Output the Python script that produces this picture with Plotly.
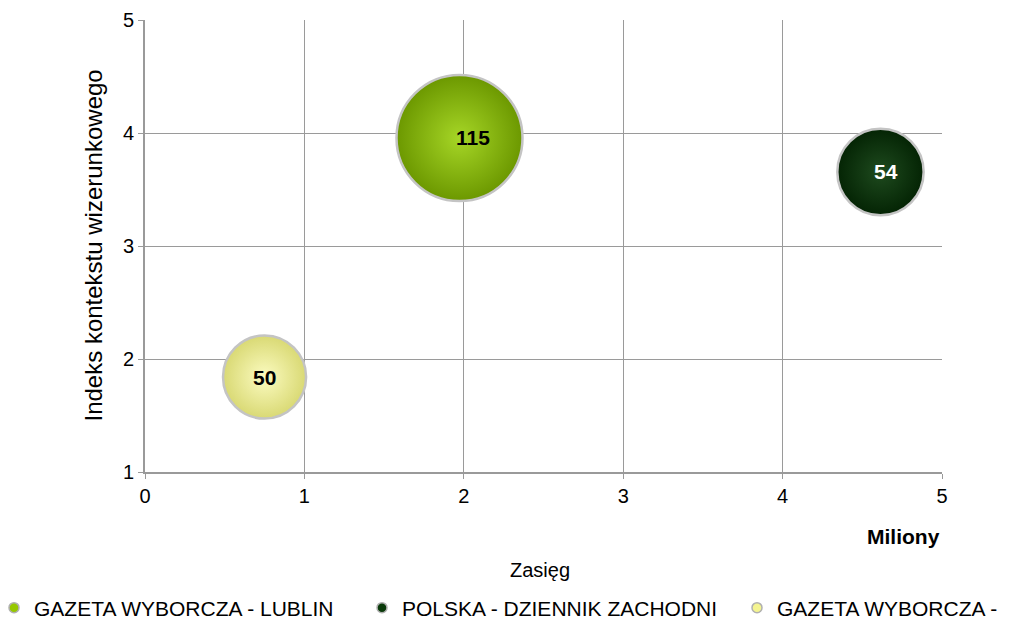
import plotly.graph_objects as go

# ---- data ----
names = ["GAZETA WYBORCZA - LUBLIN", "POLSKA - DZIENNIK ZACHODNI", "GAZETA WYBORCZA -"]
reach = [1.973, 4.614, 0.75]          # Zasięg (Miliony)
index_val = [3.956, 3.655, 1.84]      # Indeks kontekstu wizerunkowego
bubble = [115, 54, 50]
x_ticks = [0, 1, 2, 3, 4, 5]
y_ticks = [1, 2, 3, 4, 5]

# ---- styles ----
outer_cols = ["#6c9800", "#042404", "#d9d974"]
inner_cols = ["#a6d626", "#1e4a1e", "#fbfbc0"]
legend_cols = ["#96c800", "#0a3a0a", "#f4f490"]
label_cols = ["black", "white", "black"]
label_xshift = [13, 6, 0]
legend_x_px = [-14, 354, 729]

FONT = "Liberation Sans, Arial, sans-serif"
# the page body has an 8px margin; compensate so the figure fills the window
W, H = 1005, 613
L, R, T, B = 137, 71, 12, 149
pw = W - L - R
ph = H - T - B

max_px = 126.0
sizeref = 2.0 * max(bubble) / max_px ** 2

fig = go.Figure()
for i in range(len(names)):
    fig.add_trace(go.Scatter(
        x=[reach[i]], y=[index_val[i]], mode="markers",
        marker=dict(size=[bubble[i]], sizemode="area", sizeref=sizeref,
                    color=outer_cols[i],
                    gradient=dict(type="radial", color=inner_cols[i]),
                    line=dict(color="#c4c4c4", width=2.5),
                    opacity=1),
        showlegend=False, hoverinfo="skip", cliponaxis=False))
    leg = "legend" if i == 0 else f"legend{i+1}"
    fig.add_trace(go.Scatter(
        x=[None], y=[None], mode="markers", name=names[i],
        marker=dict(size=10, color=legend_cols[i],
                    line=dict(color="#b0b0b0", width=1.5)),
        showlegend=True, legend=leg))
    fig.add_annotation(
        x=reach[i], y=index_val[i], xref="x", yref="y", text=str(bubble[i]),
        showarrow=False, xshift=label_xshift[i],
        font=dict(family=FONT, size=21, color=label_cols[i], weight="bold"))

axis_common = dict(showgrid=True, gridcolor="#9a9a9a", gridwidth=1,
                   showline=True, linecolor="#9a9a9a", linewidth=2,
                   ticks="outside", ticklen=5, tickcolor="#9a9a9a",
                   tickfont=dict(family=FONT, size=20, color="black"),
                   zeroline=False, mirror=False)

fig.update_xaxes(range=[x_ticks[0], x_ticks[-1]], tickvals=x_ticks, **axis_common)
fig.update_yaxes(range=[y_ticks[0], y_ticks[-1]], tickvals=y_ticks, **axis_common)

fig.add_annotation(x=0, y=0.5, xref="paper", yref="paper", text="Indeks kontekstu wizerunkowego",
                   textangle=-90, showarrow=False, xshift=-68,
                   font=dict(family=FONT, size=24, color="black"))
fig.add_annotation(x=1, y=0, xref="paper", yref="paper", text="Miliony",
                   showarrow=False, xanchor="right", yanchor="middle", yshift=-64, xshift=0,
                   font=dict(family=FONT, size=21, color="black", weight="bold"))
fig.add_annotation(x=0.496, y=0, xref="paper", yref="paper", text="Zasięg",
                   showarrow=False, xanchor="center", yanchor="middle", yshift=-98,
                   font=dict(family=FONT, size=20, color="black"))

leg_y = -136 / ph
legends = {}
for i in range(3):
    key = "legend" if i == 0 else f"legend{i+1}"
    legends[key] = dict(x=(legend_x_px[i] - L) / pw, y=leg_y, xanchor="left", yanchor="middle",
                        orientation="h", bgcolor="rgba(0,0,0,0)",
                        font=dict(family=FONT, size=21, color="black"))

fig.update_layout(
    width=W, height=H,
    margin=dict(l=L, r=R, t=T, b=B, autoexpand=False),
    plot_bgcolor="white", paper_bgcolor="white",
    font=dict(family=FONT, color="black"),
    **legends,
)

fig.write_html("out.html")
